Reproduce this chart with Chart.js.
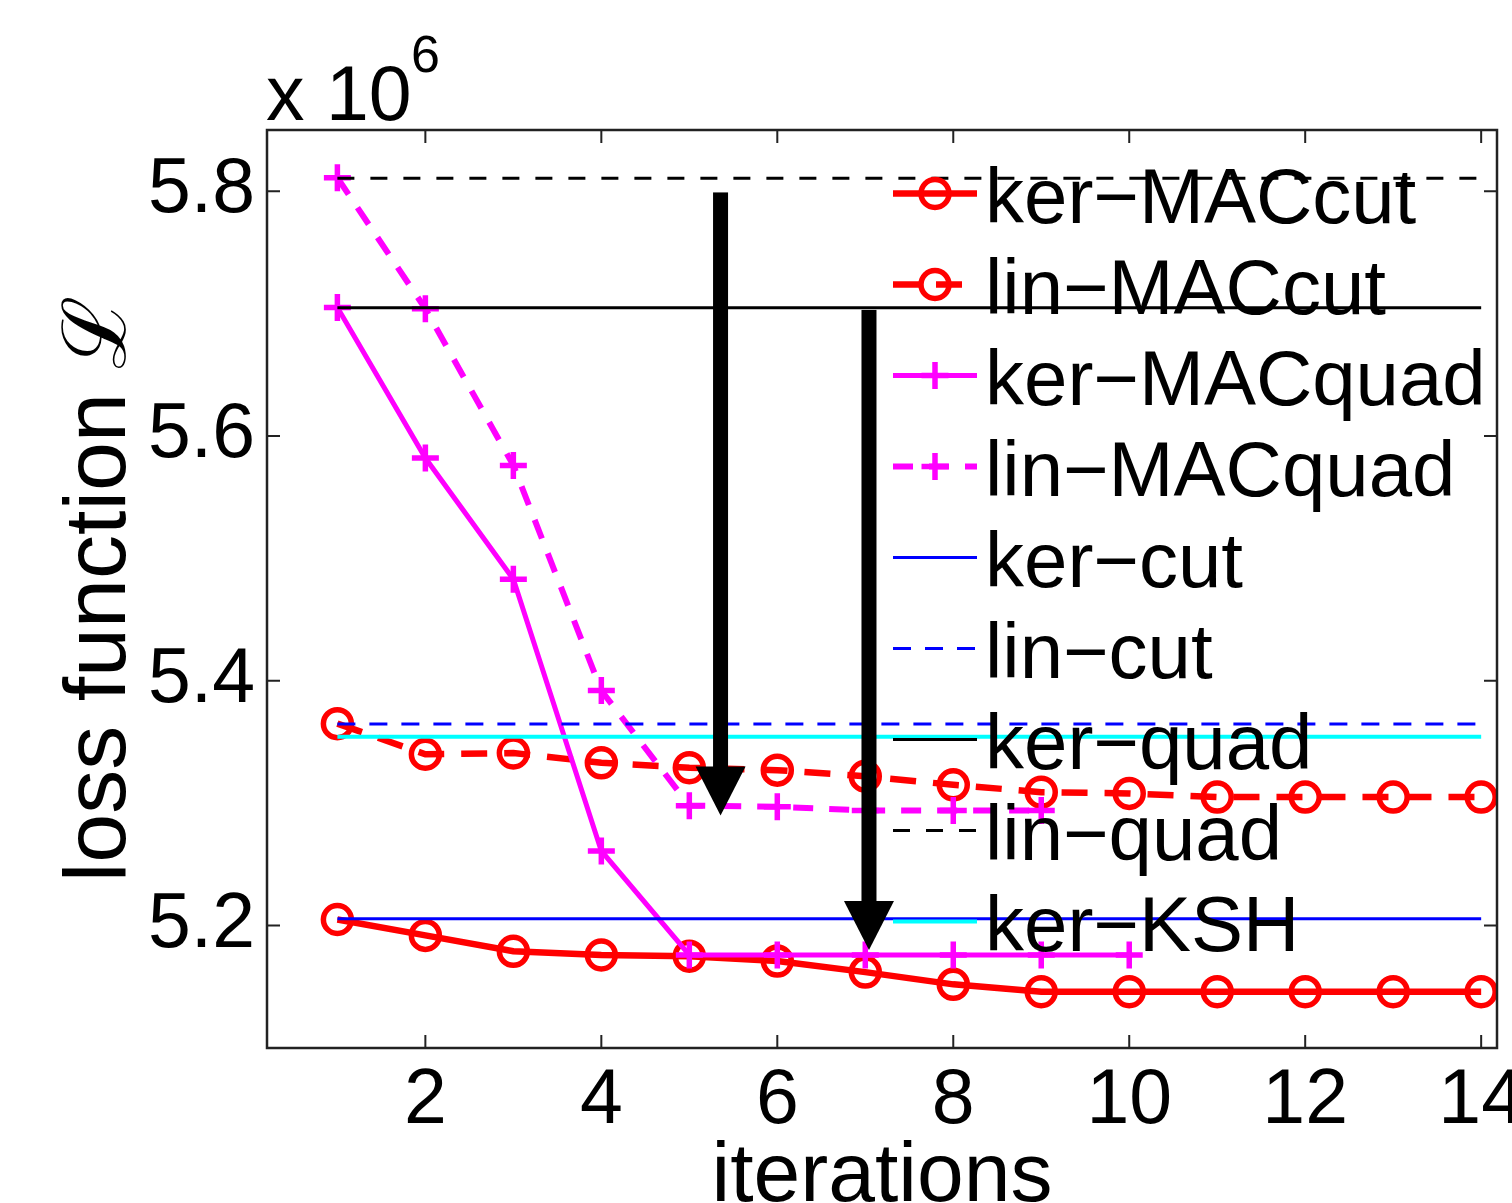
<!DOCTYPE html>
<html lang="en">
<head>
<meta charset="UTF-8">
<title>loss function vs iterations</title>
<style>
  body { margin: 0; background: #fff; }
  #wrap { width: 1512px; height: 1203px; }
</style>
</head>
<body>
<div id="wrap"><canvas id="lossChart" width="1512" height="1203"></canvas></div>

<script src="https://cdn.jsdelivr.net/npm/chart.js"></script>
<script>
// loss values, units of 10^6
const iterations = [1, 2, 3, 4, 5, 6, 7, 8, 9, 10, 11, 12, 13, 14];
const kerMACcut  = [5.205, 5.192, 5.179, 5.176, 5.175, 5.171, 5.162, 5.152, 5.146, 5.146, 5.146, 5.146, 5.146, 5.146];
const linMACcut  = [5.365, 5.340, 5.341, 5.333, 5.329, 5.327, 5.322, 5.315, 5.309, 5.308, 5.305, 5.305, 5.305, 5.305];
const kerMACquad = [5.705, 5.582, 5.483, 5.261, 5.176, 5.176, 5.176, 5.176, 5.176, 5.176];
const linMACquad = [5.811, 5.704, 5.576, 5.392, 5.298, 5.297, 5.294, 5.294, 5.294];

// constant baselines
const kerCut  = 5.2055;
const linCut  = 5.3647;
const kerQuad = 5.7048;
const linQuad = 5.8106;
const kerKSH  = 5.3543;

const xTicks = [2, 4, 6, 8, 10, 12, 14];
const yTicks = [5.2, 5.4, 5.6, 5.8];

// the two arrows: x, start, end
const arrowX    = [5.355, 7.042];
const arrowFrom = [5.799, 5.703];
const arrowTo   = [5.290, 5.180];

const FONT = '"Liberation Sans", Arial, sans-serif';

function pts(ys) {
    return ys.map((y, i) => ({ x: iterations[i], y: y }));
}
function flat(v) {
    return [{ x: iterations[0], y: v }, { x: iterations[iterations.length - 1], y: v }];
}

function line(label, data, color, width, dash, marker, order) {
    return {
        label: label,
        data: data,
        borderColor: color,
        borderWidth: width,
        borderDash: dash || [],
        pointStyle: marker || 'circle',
        pointRadius: marker === 'cross' ? 13.5 : (marker ? 14 : 0),
        pointHoverRadius: marker === 'cross' ? 13.5 : (marker ? 14 : 0),
        pointBorderWidth: 5.5,
        pointBorderColor: color,
        pointBackgroundColor: 'rgba(0,0,0,0)',
        fill: false,
        tension: 0,
        order: order
    };
}

const datasets = [
    line('ker\u2212MACcut', pts(kerMACcut), '#ff0000', 6.5, null, 'circle', 3),
    line('lin\u2212MACcut', pts(linMACcut), '#ff0000', 6.5, [26, 17], 'circle', 3),
    line('ker\u2212MACquad', pts(kerMACquad), '#ff00ff', 5, null, 'cross', 2),
    line('lin\u2212MACquad', pts(linMACquad), '#ff00ff', 6, [20, 16], 'cross', 2),
    line('ker\u2212cut', flat(kerCut), '#0000ff', 3, null, null, 1),
    line('lin\u2212cut', flat(linCut), '#0000ff', 3, [18, 14], null, 1),
    line('ker\u2212quad', flat(kerQuad), '#000000', 3, null, null, 1),
    line('lin\u2212quad', flat(linQuad), '#000000', 3, [17, 16], null, 1),
    line('ker\u2212KSH', flat(kerKSH), '#00ffff', 4, null, null, 1)
];

function drawMarker(ctx, style, x, y, color) {
    ctx.save();
    ctx.setLineDash([]);
    ctx.strokeStyle = color;
    ctx.lineWidth = 5.5;
    ctx.beginPath();
    if (style === 'cross') {
        ctx.moveTo(x - 13.5, y); ctx.lineTo(x + 13.5, y);
        ctx.moveTo(x, y - 13.5); ctx.lineTo(x, y + 13.5);
    } else {
        ctx.arc(x, y, 14, 0, Math.PI * 2);
    }
    ctx.stroke();
    ctx.restore();
}

// no extra side padding for the edge tick labels ("14" is cut off by the figure edge)
function noPadding(s) {
    s.paddingLeft = 0; s.paddingRight = 0; s.paddingTop = 0; s.paddingBottom = 0;
}

const extras = {
    id: 'extras',
    afterDatasetsDraw(chart) {
        const ctx = chart.ctx;
        const a = chart.chartArea;
        const xs = chart.scales.x, ys = chart.scales.y;

        // box + inward ticks
        ctx.save();
        ctx.strokeStyle = '#222';
        ctx.lineWidth = 2.5;
        ctx.strokeRect(a.left, a.top, a.right - a.left, a.bottom - a.top);
        ctx.lineWidth = 2;
        ctx.beginPath();
        xTicks.forEach(v => {
            const px = xs.getPixelForValue(v);
            ctx.moveTo(px, a.bottom); ctx.lineTo(px, a.bottom - 13);
            ctx.moveTo(px, a.top); ctx.lineTo(px, a.top + 13);
        });
        yTicks.forEach(v => {
            const py = ys.getPixelForValue(v);
            ctx.moveTo(a.left, py); ctx.lineTo(a.left + 13, py);
            ctx.moveTo(a.right, py); ctx.lineTo(a.right - 13, py);
        });
        ctx.stroke();
        ctx.restore();

        // arrows
        ctx.save();
        ctx.fillStyle = '#000';
        for (let i = 0; i < arrowX.length; i++) {
            const px = xs.getPixelForValue(arrowX[i]);
            const y0 = ys.getPixelForValue(arrowFrom[i]);
            const y1 = ys.getPixelForValue(arrowTo[i]);
            const headLen = 49, headHalf = 25, shaftHalf = 7.5;
            ctx.fillRect(px - shaftHalf, y0, shaftHalf * 2, y1 - headLen - y0 + 1);
            ctx.beginPath();
            ctx.moveTo(px - headHalf, y1 - headLen);
            ctx.lineTo(px + headHalf, y1 - headLen);
            ctx.lineTo(px, y1);
            ctx.closePath();
            ctx.fill();
        }
        ctx.restore();

        // legend, no box, inside the axes
        ctx.save();
        chart.data.datasets.forEach((ds, i) => {
            const y = 193.5 + 91 * i;
            ctx.strokeStyle = ds.borderColor;
            ctx.lineWidth = ds.borderWidth;
            ctx.setLineDash(ds.borderDash);
            ctx.beginPath();
            ctx.moveTo(893, y);
            ctx.lineTo(977, y);
            ctx.stroke();
            if (ds.pointRadius > 0) drawMarker(ctx, ds.pointStyle, 935, y, ds.borderColor);
            ctx.setLineDash([]);
            ctx.fillStyle = '#000';
            ctx.font = '78px ' + FONT;
            ctx.textBaseline = 'alphabetic';
            ctx.textAlign = 'left';
            ctx.fillText(ds.label, 985, y + 29);
        });
        ctx.restore();

        // exponent label
        ctx.save();
        ctx.fillStyle = '#000';
        ctx.textBaseline = 'alphabetic';
        ctx.font = '77px ' + FONT;
        ctx.fillText('x 10', 266, 120);
        ctx.font = '52px ' + FONT;
        ctx.fillText('6', 411, 72);
        ctx.restore();
    }
};

new Chart(document.getElementById('lossChart'), {
    type: 'line',
    data: { datasets: datasets },
    options: {
        responsive: false,
        animation: false,
        devicePixelRatio: 1,
        layout: { autoPadding: false, padding: { top: 130, right: 15, left: 0, bottom: 0 } },
        plugins: { legend: { display: false }, tooltip: { enabled: false } },
        scales: {
            x: {
                type: 'linear',
                min: 0.2,
                max: 14.18,
                afterBuildTicks: s => { s.ticks = xTicks.map(v => ({ value: v })); },
                afterFit: s => { s.height = 155; noPadding(s); },
                grid: { display: false, drawTicks: false },
                border: { display: false },
                ticks: {
                    color: '#000',
                    font: { family: FONT, size: 77, lineHeight: 1 },
                    padding: 15,
                    maxRotation: 0,
                    autoSkip: false,
                    callback: v => String(v)
                },
                title: {
                    display: true,
                    text: 'iterations',
                    color: '#000',
                    font: { family: FONT, size: 84, lineHeight: 1 },
                    padding: { top: 0, bottom: -17 }
                }
            },
            y: {
                type: 'linear',
                min: 5.1,
                max: 5.85,
                afterBuildTicks: s => { s.ticks = yTicks.map(v => ({ value: v })); },
                afterFit: s => { s.width = 267; noPadding(s); },
                grid: { display: false, drawTicks: false },
                border: { display: false },
                ticks: {
                    color: '#000',
                    font: { family: FONT, size: 77, lineHeight: 1 },
                    padding: 12,
                    callback: v => v.toFixed(1)
                },
                title: {
                    display: true,
                    text: 'loss function \u2112',
                    color: '#000',
                    font: { family: FONT, size: 88, lineHeight: 1 },
                    padding: { top: 57, bottom: 0 }
                }
            }
        }
    },
    plugins: [extras]
});
</script>
</body>
</html>
